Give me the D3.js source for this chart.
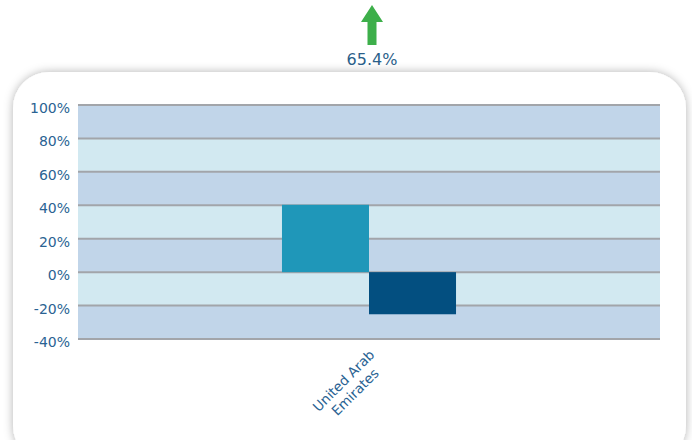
<!DOCTYPE html>
<html>
<head>
<meta charset="utf-8">
<script src="https://cdn.jsdelivr.net/npm/d3@7"></script>
<style>
  body { margin: 0; background: #fff; }
  svg { display: block; font-family: "DejaVu Sans", sans-serif; }
</style>
</head>
<body>
<div id="vis"></div>
<script>
var width = 692;
var height = 440;

// chart data
var categories = ['United Arab Emirates'];
var seriesNames = ['Series 1', 'Series 2'];
var seriesValues = [[40.3], [-25.2]];
var seriesColors = ['#1f97b9', '#034f80'];
var yTicks = [-40, -20, 0, 20, 40, 60, 80, 100];
var headline = 65.4;

var plot = { left: 78, right: 660, top: 105, bottom: 339 };

var svg = d3.select('#vis').append('svg')
  .attr('width', width)
  .attr('height', height);

// soft shadow for the card
var defs = svg.append('defs');
var f = defs.append('filter').attr('id', 'shadow')
  .attr('x', '-10%').attr('y', '-10%').attr('width', '120%').attr('height', '120%');
f.append('feDropShadow')
  .attr('dx', 0).attr('dy', 0)
  .attr('stdDeviation', 5)
  .attr('flood-color', '#000')
  .attr('flood-opacity', 0.3);

svg.append('rect')
  .attr('x', 13).attr('y', 72)
  .attr('width', 673).attr('height', 390)
  .attr('rx', 36).attr('ry', 36)
  .attr('fill', '#fff')
  .attr('filter', 'url(#shadow)');

// headline arrow + value
var arrow = svg.append('g').attr('transform', 'translate(372,0)');
arrow.append('path')
  .attr('d', 'M0,5 L11,22 L4.5,22 L4.5,45 L-4.5,45 L-4.5,22 L-11,22 Z')
  .attr('fill', '#3daf4a');
svg.append('text')
  .attr('x', 372).attr('y', 65)
  .attr('text-anchor', 'middle')
  .attr('font-size', 16)
  .attr('fill', '#2b5f8a')
  .text(headline.toFixed(1) + '%');

var y = d3.scaleLinear()
  .domain([-40, 100])
  .range([plot.bottom, plot.top]);

var x = d3.scaleBand()
  .domain(categories)
  .range([plot.left, plot.right])
  .paddingInner(0)
  .paddingOuter(1.172);

var xSeries = d3.scaleBand()
  .domain(seriesNames)
  .range([0, x.bandwidth()]);

var g = svg.append('g');

// alternating bands
var bands = d3.pairs(yTicks);
g.selectAll('.band')
  .data(bands)
  .enter().append('rect')
  .attr('class', 'band')
  .attr('x', plot.left)
  .attr('width', plot.right - plot.left)
  .attr('y', function (d) { return y(d[1]); })
  .attr('height', function (d) { return y(d[0]) - y(d[1]); })
  .attr('fill', function (d, i) { return i % 2 === 0 ? '#c1d5e9' : '#d2e9f1'; });

// gridlines
g.selectAll('.grid')
  .data(yTicks)
  .enter().append('line')
  .attr('class', 'grid')
  .attr('x1', plot.left).attr('x2', plot.right)
  .attr('y1', function (d) { return y(d); })
  .attr('y2', function (d) { return y(d); })
  .attr('stroke', '#a2a5aa')
  .attr('stroke-width', 2);

// bars
seriesNames.forEach(function (s, si) {
  g.selectAll('.bar-' + si)
    .data(categories.map(function (c, ci) { return { cat: c, value: seriesValues[si][ci] }; }))
    .enter().append('rect')
    .attr('x', function (d) { return x(d.cat) + xSeries(s); })
    .attr('width', xSeries.bandwidth())
    .attr('y', function (d) { return y(Math.max(0, d.value)); })
    .attr('height', function (d) { return Math.abs(y(d.value) - y(0)); })
    .attr('fill', seriesColors[si]);
});

// y axis labels
var yAxis = d3.axisLeft(y)
  .tickValues(yTicks)
  .tickSize(0)
  .tickPadding(8)
  .tickFormat(function (d) { return d + '%'; });

svg.append('g')
  .attr('transform', 'translate(' + plot.left + ',3)')
  .call(yAxis)
  .call(function (a) { a.select('.domain').remove(); })
  .selectAll('text')
  .attr('font-family', '"DejaVu Sans", sans-serif')
  .attr('font-size', 14)
  .attr('fill', '#2a6393');

// x axis labels, rotated, two lines
var xl = svg.append('g');
categories.forEach(function (c) {
  var cx = x(c) + x.bandwidth() / 2;
  var t = xl.append('text')
    .attr('transform', 'translate(' + (cx - 22) + ',' + 384 + ') rotate(-45)')
    .attr('text-anchor', 'middle')
    .attr('font-size', 13.5)
    .attr('fill', '#2a6393');
  var words = c.split(' ');
  t.append('tspan').attr('x', 0).attr('dy', 0).text(words.slice(0, 2).join(' '));
  t.append('tspan').attr('x', 0).attr('dy', '1.2em').text(words.slice(2).join(' '));
});
</script>
</body>
</html>
